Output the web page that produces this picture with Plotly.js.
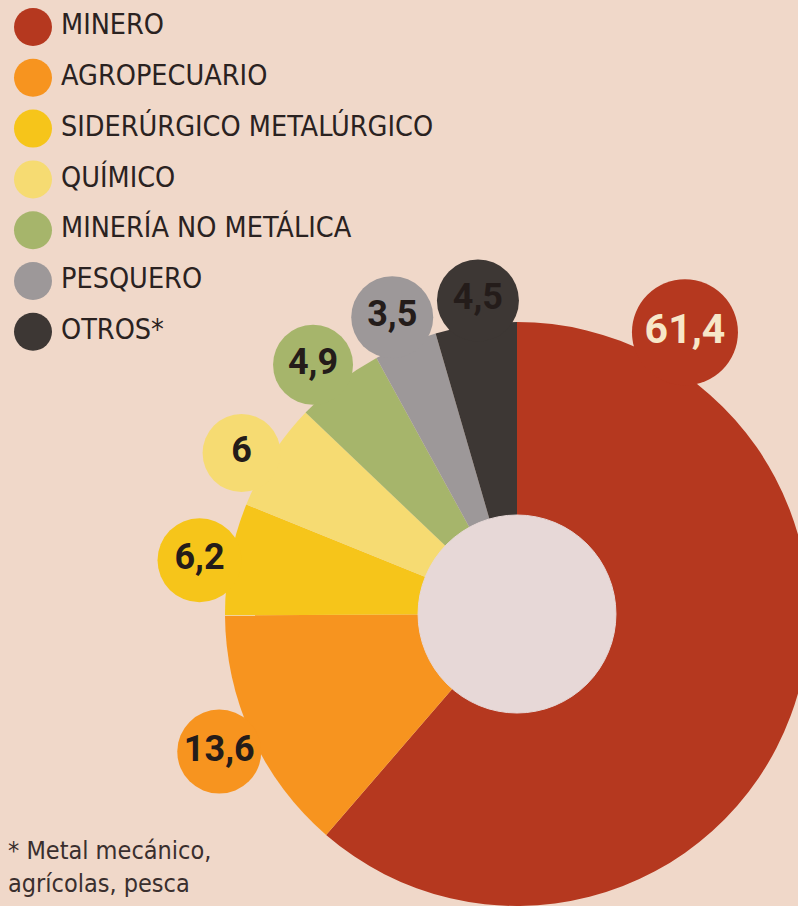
<!DOCTYPE html>
<html>
<head>
<meta charset="utf-8">
<script src="https://cdn.plot.ly/plotly-3.0.1.min.js"></script>
<style>
html, body { margin: 0; padding: 0; overflow: hidden; background: #f0d8c9; width: 798px; height: 906px; }
#chart { width: 900px; height: 1000px; }
</style>
</head>
<body>
<div id="chart"></div>
<script>
// ---- data ----
const categories = ['MINERO', 'AGROPECUARIO', 'SIDERÚRGICO METALÚRGICO', 'QUÍMICO', 'MINERÍA NO METÁLICA', 'PESQUERO', 'OTROS*'];
const values = [61.4, 13.6, 6.2, 6, 4.9, 3.5, 4.5];
const valueLabels = ['61,4', '13,6', '6,2', '6', '4,9', '3,5', '4,5'];
const colors = ['#b5381f', '#f7941f', '#f6c51a', '#f6db72', '#a6b56b', '#9d9899', '#3d3734'];
const footnote = ['* Metal mecánico,', 'agrícolas, pesca'];

// ---- layout geometry (pixels / degrees) ----
const W = 900, H = 1000;
const CX = 517, CY = 614;      // donut centre
const RP = 380;                // polar disc radius
const R_OUT = 292, R_HOLE = 99;
const BUBBLE_ANGLE = [30.8, 245.2, 279.6, 300.3, 320.7, 337.2, 352.9];
const BUBBLE_DIST = [328, 328, 322, 319, 322, 322, 316];
const BUBBLE_SIZE = [106, 84, 84, 78, 80, 82, 82];
const COND = '"DejaVu Sans Condensed", "DejaVu Sans", sans-serif';
const NUMF = 'Roboto, "DejaVu Sans Condensed", sans-serif';

const total = values.reduce((a, b) => a + b, 0);
const widths = values.map(v => v / total * 360);
const mids = [];
let acc = 0;
widths.forEach(w => { mids.push(acc + w / 2); acc += w; });

const traces = [];
// slices
traces.push({
  type: 'barpolar',
  r: values.map(() => R_OUT / RP),
  theta: mids,
  width: widths,
  marker: { color: colors, line: { width: 0 } },
  hoverinfo: 'skip',
  showlegend: false
});
// centre hole
traces.push({
  type: 'barpolar',
  r: [R_HOLE / RP, R_HOLE / RP],
  theta: [90, 270],
  width: [180, 180],
  marker: { color: '#e7d8d7', line: { color: '#e7d8d7', width: 1 } },
  hoverinfo: 'skip',
  showlegend: false
});
// label bubbles
traces.push({
  type: 'scatterpolar',
  mode: 'markers+text',
  r: values.map((v, i) => BUBBLE_DIST[i] / RP),
  theta: values.map((v, i) => BUBBLE_ANGLE[i]),
  text: valueLabels,
  textposition: 'middle center',
  cliponaxis: false,
  marker: { size: values.map((v, i) => BUBBLE_SIZE[i]), color: colors, line: { width: 0 }, opacity: 1 },
  textfont: {
    family: NUMF, weight: 'bold',
    size: values.map((v, i) => i === 0 ? 41 : 36),
    color: values.map((v, i) => i === 0 ? '#f7e7c8' : '#241c1a')
  },
  hoverinfo: 'skip',
  showlegend: false
});
// legend (custom)
const legIdx = categories.map((c, i) => i);
traces.push({
  type: 'scatter',
  mode: 'markers',
  x: categories.map(() => 33),
  y: legIdx,
  marker: { size: 38, color: colors, line: { width: 0 } },
  hoverinfo: 'skip',
  showlegend: false,
  cliponaxis: false
});
traces.push({
  type: 'scatter',
  mode: 'text',
  x: categories.map(() => 61),
  y: legIdx,
  text: categories,
  textposition: 'middle right',
  textfont: { family: COND, size: 28.5, color: '#2a2221' },
  hoverinfo: 'skip',
  showlegend: false,
  cliponaxis: false
});

const legTop = 27, legStep = 50.8;
const layout = {
  width: W, height: H,
  margin: { l: 0, r: 0, t: 0, b: 0, pad: 0 },
  paper_bgcolor: '#f0d8c9',
  plot_bgcolor: 'rgba(0,0,0,0)',
  showlegend: false,
  polar: {
    domain: { x: [(CX - RP) / W, (CX + RP) / W], y: [(H - CY - RP) / H, (H - CY + RP) / H] },
    bgcolor: 'rgba(0,0,0,0)',
    bargap: 0,
    radialaxis: { range: [0, 1], visible: false, showgrid: false, showline: false, showticklabels: false, ticks: '' },
    angularaxis: { direction: 'clockwise', rotation: 90, showgrid: false, showline: false, showticklabels: false, ticks: '' }
  },
  xaxis: { domain: [0, 1], range: [0, W], visible: false, fixedrange: true },
  yaxis: { domain: [0, 1], range: [(H - legTop) / legStep, -legTop / legStep], visible: false, fixedrange: true },
  annotations: [{
    xref: 'paper', yref: 'paper',
    x: 6 / W, y: 1 - 867 / H,
    xanchor: 'left', yanchor: 'middle', align: 'left',
    text: footnote.join('<br>'), showarrow: false,
    font: { family: COND, size: 25, color: '#3a2f2e' }
  }]
};

Plotly.newPlot('chart', traces, layout, { displayModeBar: false, staticPlot: true });
</script>
</body>
</html>
